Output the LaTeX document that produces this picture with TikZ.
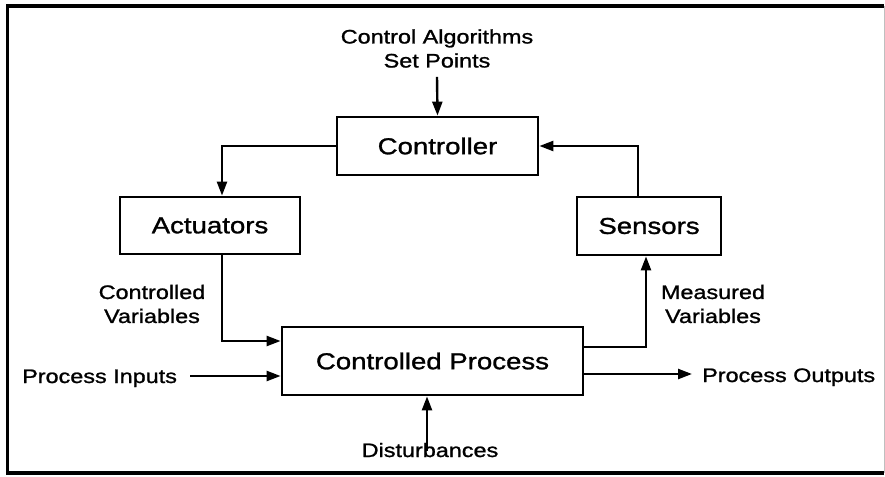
\documentclass[tikz,border=0pt]{standalone}
\usepackage{fontspec}
\setmainfont[FakeStretch=1.2,FakeBold=1.2]{Liberation Sans}
\usetikzlibrary{arrows.meta}
\begin{document}
\begin{tikzpicture}[x=1pt,y=-1pt,
  box/.style={draw, line width=2.8pt, inner sep=0pt, font=\fontsize{23}{27}\selectfont},
  lbl/.style={inner sep=0pt, align=center, font=\fontsize{19.5}{24}\selectfont},
  conn/.style={line width=2.4pt, -{Triangle[length=14pt,width=10pt]}},
  wire/.style={line width=2.4pt}]
\useasboundingbox (0,0) rectangle (885,476);
% frame
\draw[line width=3.8pt] (884,6) -- (7.5,6) -- (7.5,473) -- (884,473);
\draw[line width=0.8pt, black!25] (884,6) -- (884,473);

% boxes
\node[box, minimum width=201pt, minimum height=58pt] (ctrl) at (437.5,146) {Controller};
\node[box, minimum width=180pt, minimum height=57pt] (act) at (210,225.5) {Actuators};
\node[box, minimum width=144pt, minimum height=58pt] (sens) at (649,226) {Sensors};
\node[box, minimum width=301pt, minimum height=68pt] (proc) at (432.5,361) {Controlled Process};

% labels
\node[lbl] (cas) at (437,48.5) {Control Algorithms\\Set Points};
\node[lbl] (cv) at (152,304) {Controlled\\Variables};
\node[lbl] (mv) at (713,304) {Measured\\Variables};
\node[lbl, anchor=base west] (pin) at (22,383) {Process Inputs};
\node[lbl, anchor=base west] (pout) at (702,382) {Process Outputs};
\node[lbl, anchor=base] (dist) at (430,457) {Disturbances};

% connectors
\draw[conn] ([yshift=-9pt]cas.south) -- (ctrl.north);
\draw[conn] (ctrl.west) -| ([xshift=12pt]act.north);
\draw[conn] ([xshift=-11pt]sens.north) |- (ctrl.east);
\draw[conn] ([xshift=12pt]act.south) |- ([yshift=20pt]proc.west);
\draw[conn] ([xshift=13pt]pin.east |- proc.west) ++(0,15) -- ([yshift=-15pt]proc.west);
\draw[conn] ([yshift=14pt]proc.east) -| ([xshift=-3pt]sens.south);
\draw[conn] ([yshift=-13pt]proc.east) -- ([xshift=-10pt,yshift=-13pt]proc.east -| pout.west);
\draw[conn] ([xshift=-3pt,yshift=-8pt]dist.north) -- ([xshift=-5.5pt]proc.south);
\end{tikzpicture}
\end{document}
